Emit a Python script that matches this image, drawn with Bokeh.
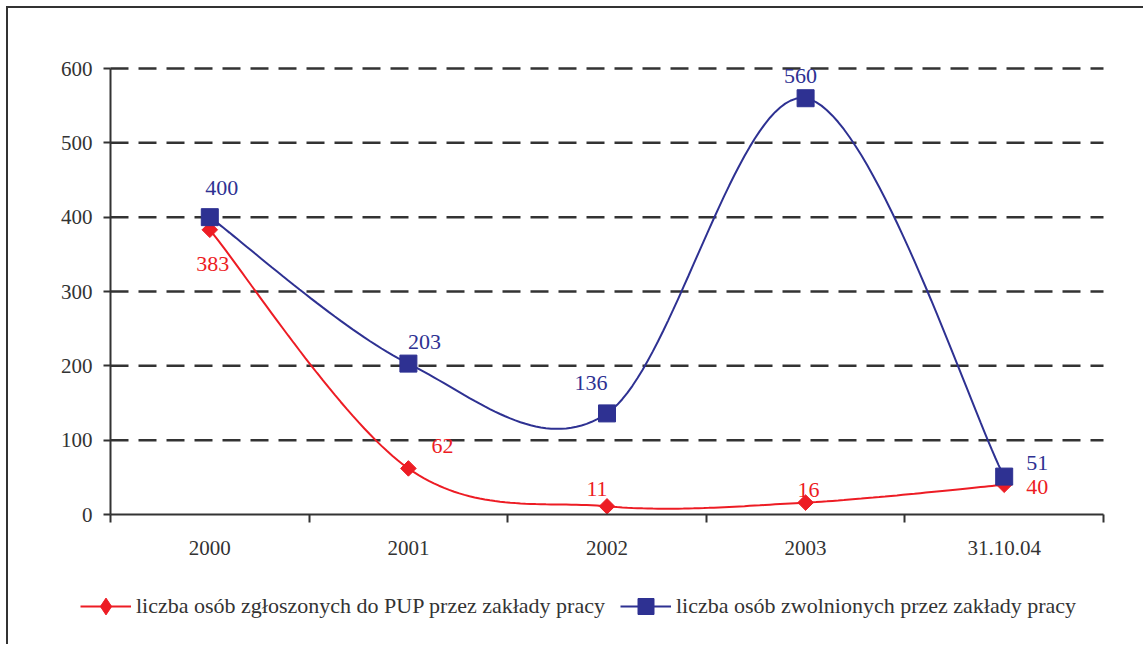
import numpy as np
from bokeh.plotting import figure
from bokeh.models import FixedTicker, Legend, LegendItem, ColumnDataSource
from bokeh.core.properties import value
from bokeh.embed import file_html
from bokeh.resources import INLINE

categories = ["2000", "2001", "2002", "2003", "31.10.04"]
zgloszeni = [383, 62, 11, 16, 40]
zwolnieni = [400, 203, 136, 560, 51]
label_zgl = "liczba osób zgłoszonych do PUP przez zakłady pracy"
label_zwo = "liczba osób zwolnionych przez zakłady pracy"
y_ticks = [0, 100, 200, 300, 400, 500, 600]

# label offsets (pixels) - styling only
off_zwo = [(12, -29), (16, -22), (-16, -30), (-5, -22), (33, -14)]
off_zgl = [(3, 34), (34, -22), (-10, -17), (3, -13), (33, 2)]

RED = "#ED1C24"
BLUE = "#2E3192"
DARK = "#333333"
FONT = "Liberation Serif"

n_cat = len(categories)
xs = [i + 0.5 for i in range(n_cat)]
y_max = y_ticks[-1]


def smooth(xv, yv, n=40):
    # Catmull-Rom -> cubic Bezier (Excel-like smoothing)
    P = np.column_stack([xv, yv]).astype(float)
    m = len(P)
    out_x, out_y = [], []
    for i in range(m - 1):
        p0 = P[i - 1] if i > 0 else P[i]
        p1 = P[i]
        p2 = P[i + 1]
        p3 = P[i + 2] if i + 2 < m else P[i + 1]
        c1 = p1 + (p2 - p0) / 6.0
        c2 = p2 - (p3 - p1) / 6.0
        t = np.linspace(0, 1, n)[:, None]
        b = ((1 - t) ** 3) * p1 + 3 * ((1 - t) ** 2) * t * c1 + 3 * (1 - t) * t ** 2 * c2 + t ** 3 * p2
        if i > 0:
            b = b[1:]
        out_x.extend(b[:, 0])
        out_y.extend(b[:, 1])
    return out_x, out_y


# pixel layout: plot area 110..1103 x, 68..514 y (screen)
W, H = 1137, 638
left_px, right_px = 110 - 8, 1103 - 8
top_px, bottom_px = 68 - 8, 514 - 8
ux = (right_px - left_px) / n_cat
uy = (bottom_px - top_px) / y_max
x_rng = (-left_px / ux, (W - left_px) / ux)
y_rng = (-(H - bottom_px) / uy, bottom_px / uy)

p = figure(width=W, height=H, x_range=x_rng, y_range=y_rng,
           output_backend="svg", toolbar_location=None,
           min_border_left=0, min_border_right=0, min_border_top=0, min_border_bottom=0)
p.styles = {"border-left": "2px solid #333333", "border-top": "2px solid #333333",
            "margin-left": "6px", "margin-top": "6px"}
p.outline_line_color = None
p.background_fill_color = "white"
p.border_fill_color = "white"

# grid (drawn as segments between the axis bounds)
p.xgrid.visible = False
p.ygrid.visible = False
p.segment(x0=[0] * (len(y_ticks) - 1), x1=[n_cat] * (len(y_ticks) - 1),
          y0=y_ticks[1:], y1=y_ticks[1:], line_color=DARK, line_width=2.5, line_dash="18 10")

# y axis
p.yaxis.fixed_location = 0
p.yaxis.bounds = (0, y_max)
p.yaxis.ticker = FixedTicker(ticks=y_ticks)
p.yaxis.axis_line_color = DARK
p.yaxis.axis_line_width = 2
p.yaxis.major_tick_line_color = DARK
p.yaxis.major_tick_line_width = 2
p.yaxis.major_tick_out = 7
p.yaxis.major_tick_in = 0
p.yaxis.minor_tick_line_color = None
p.yaxis.major_label_text_font = FONT
p.yaxis.major_label_text_font_size = "21px"
p.yaxis.major_label_text_color = DARK
p.yaxis.major_label_standoff = 11

# x axis
p.xaxis.fixed_location = 0
p.xaxis.bounds = (0, n_cat)
p.xaxis.ticker = FixedTicker(ticks=xs, minor_ticks=list(range(n_cat + 1)))
p.xaxis.major_label_overrides = {x: c for x, c in zip(xs, categories)}
p.xaxis.axis_line_color = DARK
p.xaxis.axis_line_width = 2
p.xaxis.major_tick_line_color = None
p.xaxis.major_tick_out = 0
p.xaxis.major_tick_in = 0
p.xaxis.minor_tick_line_color = DARK
p.xaxis.minor_tick_line_width = 2
p.xaxis.minor_tick_out = 8
p.xaxis.minor_tick_in = 0
p.xaxis.major_label_text_font = FONT
p.xaxis.major_label_text_font_size = "21px"
p.xaxis.major_label_text_color = DARK
p.xaxis.major_label_standoff = 18

# lines
sx, sy = smooth(xs, zgloszeni)
r_red_line = p.line(sx, sy, line_color=RED, line_width=2)
bx, by = smooth(xs, zwolnieni)
r_blue_line = p.line(bx, by, line_color=BLUE, line_width=2)

r_red_pts = p.scatter(xs, zgloszeni, marker="square", angle=np.pi / 4, size=11,
                      fill_color=RED, line_color=RED)
r_blue_pts = p.scatter(xs, zwolnieni, marker="square", size=17, fill_color=BLUE, line_color=BLUE)
# hidden twin of the red points, used only for the diamond legend symbol
r_red_key = p.scatter(xs, zgloszeni, marker="diamond", fill_color=RED, line_color=RED,
                      visible=False)

# data labels
src_b = ColumnDataSource(dict(x=xs, y=zwolnieni, t=[str(v) for v in zwolnieni],
                              dx=[o[0] for o in off_zwo], dy=[o[1] for o in off_zwo]))
p.text(x="x", y="y", text="t", x_offset="dx", y_offset="dy", source=src_b,
       text_font=value(FONT), text_font_size="22px", text_color=BLUE,
       text_align="center", text_baseline="middle")
src_r = ColumnDataSource(dict(x=xs, y=zgloszeni, t=[str(v) for v in zgloszeni],
                              dx=[o[0] for o in off_zgl], dy=[o[1] for o in off_zgl]))
p.text(x="x", y="y", text="t", x_offset="dx", y_offset="dy", source=src_r,
       text_font=value(FONT), text_font_size="22px", text_color=RED,
       text_align="center", text_baseline="middle")

# legends (one per series so each marker gets its own size)
common = dict(orientation="horizontal", label_text_font=FONT, label_text_font_size="22px",
              label_text_color=DARK, glyph_width=51, label_standoff=5, padding=0, margin=0,
              border_line_color=None, background_fill_alpha=0, click_policy="none")
leg_red = Legend(items=[LegendItem(label=label_zgl, renderers=[r_red_line, r_red_key])],
                 location=(72, 19), glyph_height=42, label_height=42, **common)
leg_blue = Legend(items=[LegendItem(label=label_zwo, renderers=[r_blue_line, r_blue_pts])],
                  location=(612, 20), glyph_height=40, label_height=40, **common)
p.add_layout(leg_red, "center")
p.add_layout(leg_blue, "center")

open("out.html", "w").write(file_html(p, INLINE))
